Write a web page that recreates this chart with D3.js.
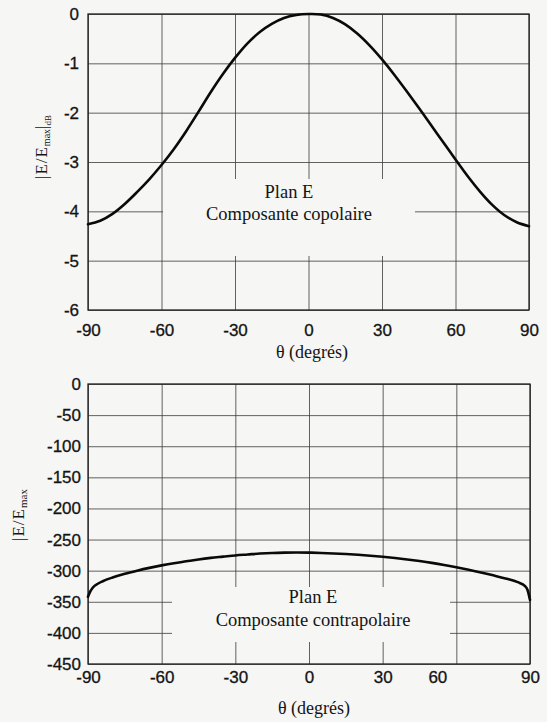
<!DOCTYPE html>
<html>
<head>
<meta charset="utf-8">
<script src="https://cdn.jsdelivr.net/npm/d3@7"></script>
<style>
  html, body { margin: 0; padding: 0; background: #f6f6f4; }
  svg { display: block; }
</style>
</head>
<body>
<svg id="chart" width="547" height="722"></svg>
<script>
// E-plane pattern, copolar component (dB)
const copolTheta = [-90, -85, -80, -75, -70, -65, -60, -55, -50, -45, -40, -35, -30, -25, -20, -15, -10, -5, 0,
                    5, 10, 15, 20, 25, 30, 35, 40, 45, 50, 55, 60, 65, 70, 75, 80, 85, 90];
const copolValues = [-4.26, -4.19, -4.05, -3.85, -3.61, -3.35, -3.06, -2.74, -2.38, -1.99, -1.59, -1.22, -0.89, -0.60, -0.37, -0.20, -0.08, -0.02, 0,
                     -0.01, -0.08, -0.21, -0.40, -0.64, -0.92, -1.23, -1.56, -1.90, -2.25, -2.60, -2.95, -3.29, -3.60, -3.87, -4.08, -4.22, -4.30];

// E-plane pattern, cross-polar component
const crossTheta = [-90, -89, -88, -86, -84, -80, -75, -70, -65, -60, -55, -50, -45, -40, -35, -30, -25, -20, -15, -10, -5, 0,
                    5, 10, 15, 20, 25, 30, 35, 40, 45, 50, 55, 60, 65, 70, 75, 80, 85, 88, 89, 90];
const crossValues = [-342, -333, -327, -321, -317, -311, -305, -300, -295.5, -291.5, -288, -285, -282, -279.5, -277.5, -275.5, -274, -272.5, -271.5, -271, -270.8, -271,
                     -271.5, -272.3, -273.3, -274.5, -276, -277.7, -279.7, -282, -284.6, -287.5, -290.8, -294.5, -298.5, -302.8, -307.5, -312.5, -318.5, -325, -331, -347];

const thetaTicks = [-90, -60, -30, 0, 30, 60, 90];
const copolTicks = [0, -1, -2, -3, -4, -5, -6];
const crossTicks = [0, -50, -100, -150, -200, -250, -300, -350, -400, -450];

const planLabel = "Plan E";
const copolLabel = "Composante copolaire";
const crossLabel = "Composante contrapolaire";
const xTitle = "θ (degrés)";

const paper = "#f6f6f4";
const ink = "#141414";
const sans = "'Liberation Sans', Arial, sans-serif";
const serif = "'Liberation Serif', 'Times New Roman', serif";
const tickText = d => String(d);   // plain hyphen for negatives

const svg = d3.select("#chart");
svg.append("rect").attr("width", 547).attr("height", 722).attr("fill", paper);

function drawPanel(p) {
  const x = d3.scaleLinear().domain([-90, 90]).range([p.left, p.right]);
  const y = d3.scaleLinear().domain(p.yDomain).range([p.bottom, p.top]);
  const g = svg.append("g");

  // grid
  g.append("g")
    .attr("transform", `translate(0,${p.bottom})`)
    .call(d3.axisBottom(x).tickValues(thetaTicks).tickSize(-(p.bottom - p.top)).tickFormat(""))
    .call(s => s.select(".domain").remove())
    .selectAll("line").attr("stroke", "#3c3c3c").attr("stroke-width", 1).attr("stroke-opacity", 0.8);
  g.append("g")
    .attr("transform", `translate(${p.left},0)`)
    .call(d3.axisLeft(y).tickValues(p.yTicks).tickSize(-(p.right - p.left)).tickFormat(""))
    .call(s => s.select(".domain").remove())
    .selectAll("line").attr("stroke", "#3c3c3c").attr("stroke-width", 1).attr("stroke-opacity", 0.8);

  // blank area behind the annotation
  g.append("rect")
    .attr("x", p.box[0]).attr("y", p.box[1])
    .attr("width", p.box[2] - p.box[0]).attr("height", p.box[3] - p.box[1])
    .attr("fill", paper);

  // frame
  g.append("rect")
    .attr("x", p.left).attr("y", p.top)
    .attr("width", p.right - p.left).attr("height", p.bottom - p.top)
    .attr("fill", "none").attr("stroke", "#222").attr("stroke-width", 1.3);

  // curve
  const line = d3.line().x((d, i) => x(p.theta[i])).y(d => y(d)).curve(p.curve);
  g.append("path").datum(p.values)
    .attr("d", line)
    .attr("fill", "none").attr("stroke", "#0a0a0a").attr("stroke-width", 2.6)
    .attr("stroke-linejoin", "round").attr("stroke-linecap", "round");

  // tick labels
  const xa = g.append("g")
    .attr("transform", `translate(0,${p.bottom})`)
    .call(d3.axisBottom(x).tickValues(thetaTicks).tickSize(0).tickPadding(p.xPad).tickFormat(tickText));
  xa.select(".domain").remove();
  xa.selectAll("text")
    .attr("font-family", sans).attr("font-size", 17).attr("fill", ink)
    .attr("stroke", ink).attr("stroke-width", 0.3)
    .attr("dx", d => (p.xShift && p.xShift[d]) || 0);

  const ya = g.append("g")
    .attr("transform", `translate(${p.left},0)`)
    .call(d3.axisLeft(y).tickValues(p.yTicks).tickSize(0).tickPadding(p.yPad).tickFormat(tickText));
  ya.select(".domain").remove();
  ya.selectAll("text")
    .attr("font-family", sans).attr("font-size", 17).attr("fill", ink)
    .attr("stroke", ink).attr("stroke-width", 0.3);

  // x title
  g.append("text")
    .attr("x", p.titleX).attr("y", p.titleY)
    .attr("text-anchor", "middle")
    .attr("font-family", serif).attr("font-size", 18).attr("fill", ink)
    .text(xTitle);

  // y title
  const yt = g.append("text")
    .attr("transform", `translate(${p.yTitle[0]},${p.yTitle[1]}) rotate(-90)`)
    .attr("text-anchor", "middle")
    .attr("font-family", serif).attr("fill", ink);
  p.yTitleParts.forEach(part => {
    yt.append("tspan").attr("font-size", part.size).attr("dy", part.dy)
      .attr("letter-spacing", part.ls || 0).text(part.t);
  });

  // annotation
  const ann = g.append("text")
    .attr("text-anchor", "middle")
    .attr("font-family", serif).attr("font-size", 18.5).attr("fill", ink);
  ann.append("tspan").attr("x", p.annX).attr("y", p.annY[0]).text(planLabel);
  ann.append("tspan").attr("x", p.annX).attr("y", p.annY[1]).text(p.label);
}

drawPanel({
  left: 88, right: 529, top: 14, bottom: 310,
  yDomain: [-6, 0], yTicks: copolTicks,
  theta: copolTheta, values: copolValues, curve: d3.curveCatmullRom.alpha(0.5),
  box: [163, 179, 415, 256],
  xPad: 14, yPad: 9,
  titleX: 312, titleY: 358,
  yTitle: [47, 147],
  yTitleParts: [
    { t: "|E/E", size: 17, dy: 0, ls: 1 },
    { t: "max", size: 10, dy: 3 },
    { t: "|", size: 17, dy: -3 },
    { t: "dB", size: 9, dy: 4 }
  ],
  annX: 289, annY: [198, 220], label: copolLabel
});

drawPanel({
  left: 88, right: 530, top: 384, bottom: 664,
  yDomain: [-450, 0], yTicks: crossTicks,
  theta: crossTheta, values: crossValues, curve: d3.curveMonotoneX,
  box: [172, 587, 450, 642],
  xPad: 7, yPad: 7,
  xShift: { 60: -19 },
  titleX: 314, titleY: 714,
  yTitle: [24, 515],
  yTitleParts: [
    { t: "|E/E", size: 17, dy: 0, ls: 1 },
    { t: "max", size: 11, dy: 3 }
  ],
  annX: 313, annY: [603, 626], label: crossLabel
});
</script>
</body>
</html>
